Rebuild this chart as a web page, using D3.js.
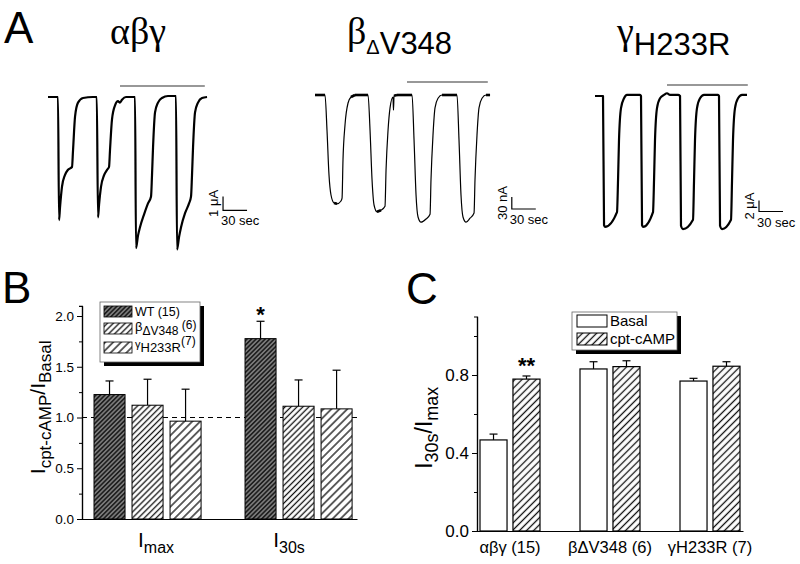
<!DOCTYPE html>
<html>
<head>
<meta charset="utf-8">
<script src="https://cdn.jsdelivr.net/npm/d3@7"></script>
<style>
  body { margin: 0; background: #fff; }
  svg { display: block; }
  text { font-family: "Liberation Sans", Arial, sans-serif; fill: #000; }
</style>
</head>
<body>
<div id="fig"></div>
<script>
// ---------- data: panel A current traces [time (s), current] ----------
// alpha-beta-gamma, current in uA
const traceAbg = [
  [0,0],[12.5,0],[13.8,-8.8],[15,-7.9],[17.5,-6.4],[21,-5.6],[25,-5.2],[30,-5.0],[31.3,-3.8],[33.8,-1.4],[37.5,-0.4],[43.8,-0.07],[56,0],[61,0],
  [62.5,-8.6],[63.8,-7.7],[66.3,-6.4],[70,-5.6],[73.8,-5.2],[76.3,-5.0],[77.5,-3.8],[80,-1.6],[83.8,-0.6],[87.5,-0.3],[90,-0.4],[92.5,-0.2],[97.5,0],[108.8,0],
  [110,-10.8],[112.5,-9.9],[115,-9.3],[120,-8.4],[125,-7.6],[128.8,-7.1],[130,-5.6],[131.3,-3.6],[133.8,-1.1],[137.5,-0.4],[142.5,-0.07],[150,0.07],[160,0.07],
  [161.3,-10.9],[163.8,-10],[166.3,-9.3],[171.3,-8.3],[176.3,-7.6],[178.8,-7.1],[180,-5.6],[181.3,-3.6],[183.8,-1.1],[187.5,-0.4],[192.5,-0.07],[198.8,0]
];
// beta dV348, current in nA
const traceDV348 = [
  [0,0],[12.5,0],[15,-88],[17.5,-200],[20,-250],[23.8,-270],[27.5,-272],[32.5,-265],[33.8,-258],[35,-162],[37.5,-75],[41.3,-20],[45,-5],[50,0],[66.3,0],
  [68.8,-88],[71.3,-212],[73.8,-275],[77.5,-292],[82.5,-288],[87.5,-278],[88.8,-188],[91.3,-88],[93.8,-32],[97.5,-5],[98.1,-38],[98.8,-2],[102.5,0],[121.3,0],
  [123.8,-112],[126.3,-250],[128.8,-305],[132.5,-318],[138.8,-310],[143.8,-298],[145,-212],[147.5,-100],[150,-32],[153.8,-8],[158.8,0],[177.5,0],
  [180,-112],[182.5,-250],[185,-305],[188.8,-318],[193.8,-308],[198.8,-295],[200,-212],[202.5,-100],[205,-32],[208.8,-8],[213.8,0],[218.8,0]
];
// gamma H233R, current in uA
const traceH233R = [
  [0,0],[10,0],[11.3,-23.5],[12.5,-23.8],[27.5,-21.1],[28.8,-15.3],[30,-8],[32.5,-2.2],[36.3,-0.4],[40,0.2],[56.3,0.2],[57.5,0],
  [58.8,-23.5],[60,-23.8],[72.5,-21.1],[73.8,-15.3],[75,-8],[77.5,-2.2],[81.3,-0.4],[86.3,0.2],[90,0.5],[93.8,0.2],[103.8,0.2],[106.3,0],
  [107.5,-23.6],[110,-24.2],[122.5,-22.5],[123.8,-15.3],[125,-8],[127.5,-2.2],[131.3,-0.4],[136.3,0.2],[153.8,0.2],[155,0],
  [156.3,-23.6],[158.8,-24.2],[170,-22.5],[171.3,-15.3],[172.5,-8],[175,-2.2],[178.8,-0.4],[183.8,0.2],[190,0.2]
];
// cpt-cAMP application periods (s)
const cptAbg = [90, 196];
const cptDV348 = [115, 216];
const cptH233R = [90, 191];

// ---------- data: panel B ----------
const bGroups = ["Imax", "I30s"];
const bSeries = ["WT", "dV348", "H233R"];
const bMeanWT = [1.226, 1.777];
const bErrWT = [0.134, 0.171];
const bMeanDV348 = [1.121, 1.111];
const bErrDV348 = [0.256, 0.259];
const bMeanH233R = [0.964, 1.085];
const bErrH233R = [0.315, 0.381];

// ---------- data: panel C ----------
const cGroups = ["αβγ (15)", "βΔV348 (6)", "γH233R (7)"];
const cSeries = ["Basal", "cpt-cAMP"];
const cMeanBasal = [0.467, 0.831, 0.769];
const cErrBasal = [0.030, 0.037, 0.014];
const cMeanCpt = [0.779, 0.843, 0.845];
const cErrCpt = [0.016, 0.030, 0.023];

const SANS = "Liberation Sans, Arial, sans-serif";
const SERIF = "'Liberation Serif', 'DejaVu Serif', 'Times New Roman', serif";

// ---------- svg ----------
const W = 800, H = 564;
const svg = d3.select("#fig").append("svg")
    .attr("width", W)
    .attr("height", H);
svg.append("rect").attr("width", W).attr("height", H).attr("fill", "#fff");

// Hatch patterns
const defs = svg.append("defs");
function hatch(id, gap, bg, lw) {
    const p = defs.append("pattern")
        .attr("id", id)
        .attr("patternUnits", "userSpaceOnUse")
        .attr("width", gap)
        .attr("height", gap)
        .attr("patternTransform", "rotate(45)");
    p.append("rect").attr("width", gap).attr("height", gap).attr("fill", bg);
    p.append("line")
        .attr("x1", gap / 2).attr("x2", gap / 2)
        .attr("y1", 0).attr("y2", gap)
        .attr("stroke", "#111")
        .attr("stroke-width", lw);
}
hatch("hWT", 3.2, "#7a7a7a", 1.4);
hatch("hDV", 4.2, "#fff", 1.3);
hatch("hH2", 5.6, "#fff", 1.3);
hatch("hCpt", 5.0, "#fff", 1.3);
const bFill = {WT: "url(#hWT)", dV348: "url(#hDV)", H233R: "url(#hH2)"};

// Panel letters
[["A", 4, 43], ["B", 2, 303], ["C", 406, 304]].forEach(([t, x, y]) => {
    svg.append("text").attr("x", x).attr("y", y)
        .style("font-size", "44px")
        .text(t);
});

// ================= PANEL A =================
// each trace: 24 px per 30 s
function drawTrace(opt) {
    const x = d3.scaleLinear().domain([0, 30]).range([opt.x0, opt.x0 + 24]);
    const y = d3.scaleLinear().domain([0, -opt.barI]).range([opt.y0, opt.y0 + opt.barPx]);

    const line = d3.line()
        .x(d => x(d[0]))
        .y(d => y(d[1]))
        .curve(d3.curveMonotoneX);

    svg.append("path")
        .datum(opt.data)
        .attr("d", line)
        .attr("fill", "none")
        .attr("stroke", "#000")
        .attr("stroke-width", opt.lw)
        .attr("stroke-linejoin", "round");

    // noisy plateaus drawn heavier
    if (opt.noisy) {
        for (let i = 1; i < opt.data.length; i++) {
            const a = opt.data[i - 1], b = opt.data[i];
            if (Math.abs(y(a[1]) - y(b[1])) < 2.5 && x(b[0]) - x(a[0]) > 1.5) {
                svg.append("line")
                    .attr("x1", x(a[0])).attr("y1", y(a[1]))
                    .attr("x2", x(b[0])).attr("y2", y(b[1]))
                    .attr("stroke", "#000").attr("stroke-width", 2.6);
            }
        }
    }

    // cpt-cAMP bar
    svg.append("line")
        .attr("x1", x(opt.cpt[0])).attr("x2", x(opt.cpt[1]))
        .attr("y1", opt.y0 - opt.cptOff).attr("y2", opt.y0 - opt.cptOff)
        .attr("stroke", "#333").attr("stroke-width", 1.2);

    // scale bar
    const sx = x(opt.sbT), sy = y(opt.sbI);
    svg.append("path")
        .attr("d", `M${sx},${sy - opt.barPx}V${sy}H${sx + 24}`)
        .attr("fill", "none").attr("stroke", "#000").attr("stroke-width", 1.2);
    svg.append("text")
        .attr("transform", `translate(${sx - 5},${sy - opt.barPx / 2}) rotate(-90)`)
        .style("text-anchor", "middle")
        .style("font-size", "13px")
        .text(opt.barLabel);
    svg.append("text")
        .attr("x", sx - 2).attr("y", sy + 15)
        .style("font-size", "13px")
        .text("30 sec");
}

drawTrace({data: traceAbg, x0: 48, y0: 97, barI: 1, barPx: 14, lw: 2.2,
    cpt: cptAbg, cptOff: 11, sbT: 218.8, sbI: -8.1, barLabel: "1 μA"});
drawTrace({data: traceDV348, x0: 315, y0: 95, barI: 30, barPx: 12, lw: 1.2, noisy: true,
    cpt: cptDV348, cptOff: 13, sbT: 246, sbI: -285, barLabel: "30 nA"});
drawTrace({data: traceH233R, x0: 595, y0: 96, barI: 2, barPx: 11, lw: 2.2,
    cpt: cptH233R, cptOff: 11, sbT: 205, sbI: -21, barLabel: "2 μA"});

// Panel A titles
svg.append("text").attr("x", 110).attr("y", 44)
    .style("font-family", SERIF).style("font-size", "38px").text("αβγ");
const t2 = svg.append("text").attr("x", 347).attr("y", 44);
t2.append("tspan").style("font-family", SERIF).style("font-size", "38px").text("β");
t2.append("tspan").attr("dy", 10).style("font-size", "20px").text("Δ");
t2.append("tspan").style("font-size", "31px").text("V348");
const t3 = svg.append("text").attr("x", 617).attr("y", 44);
t3.append("tspan").style("font-family", SERIF).style("font-size", "38px").text("γ");
t3.append("tspan").attr("dy", 11).style("font-size", "31px").text("H233R");

// ================= PANEL B =================
const yB = d3.scaleLinear().domain([0, 2.1]).range([519, 519 - 2.1 * 101.5]);
const xB = d3.scaleBand().domain(bGroups).range([82, 357])
    .paddingInner(0.291).paddingOuter(0.056).align(0.71);
const xBin = d3.scaleBand().domain(bSeries).range([0, xB.bandwidth()]).paddingInner(0.184);
const xBlab = d3.scalePoint().domain(bGroups).range([156, 289]);

const bMeans = {WT: bMeanWT, dV348: bMeanDV348, H233R: bMeanH233R};
const bErrs = {WT: bErrWT, dV348: bErrDV348, H233R: bErrH233R};
const bData = [];
bSeries.forEach(s => bGroups.forEach((g, i) => {
    bData.push({group: g, series: s, mean: bMeans[s][i], err: bErrs[s][i]});
}));

// dashed reference line
svg.append("line")
    .attr("x1", 82).attr("x2", 357)
    .attr("y1", yB(1)).attr("y2", yB(1))
    .attr("stroke", "#000").attr("stroke-width", 1.2)
    .attr("stroke-dasharray", "5,4");

// bars
const bBars = svg.append("g");
bData.forEach(d => {
    const x = xB(d.group) + xBin(d.series);
    const w = xBin.bandwidth();
    bBars.append("line")
        .attr("x1", x + w / 2).attr("x2", x + w / 2)
        .attr("y1", yB(d.mean)).attr("y2", yB(d.mean + d.err))
        .attr("stroke", "#000").attr("stroke-width", 1.2);
    bBars.append("line")
        .attr("x1", x + w / 2 - 4).attr("x2", x + w / 2 + 4)
        .attr("y1", yB(d.mean + d.err)).attr("y2", yB(d.mean + d.err))
        .attr("stroke", "#000").attr("stroke-width", 1.2);
    bBars.append("rect")
        .attr("x", x).attr("y", yB(d.mean))
        .attr("width", w).attr("height", yB(0) - yB(d.mean))
        .attr("fill", bFill[d.series])
        .attr("stroke", "#000").attr("stroke-width", 1);
});

// axes
svg.append("g")
    .attr("transform", "translate(82,0)")
    .call(d3.axisLeft(yB).tickValues([0.25, 0.75, 1.25, 1.75]).tickSize(3).tickFormat(""));
svg.append("g")
    .attr("transform", "translate(82,0)")
    .call(d3.axisLeft(yB).tickValues([0, 0.5, 1, 1.5, 2]).tickFormat(d3.format(".1f"))
        .tickSize(5).tickSizeOuter(0).tickPadding(3))
    .call(g => g.selectAll("text").style("font-size", "13.5px").style("font-family", SANS));
svg.append("g")
    .attr("transform", `translate(0,${yB(0)})`)
    .call(d3.axisBottom(xB).tickSize(0).tickSizeOuter(0).tickFormat(""));
svg.selectAll(".domain").attr("stroke-width", 1.2);

// x labels
bGroups.forEach(g => {
    const t = svg.append("text")
        .attr("x", xBlab(g))
        .attr("y", 547)
        .style("text-anchor", "middle");
    t.append("tspan").style("font-size", "21px").text("I");
    t.append("tspan").attr("dy", 6).style("font-size", "16px").text(g.slice(1));
});

// y label
const ybl = svg.append("text")
    .attr("transform", `translate(45,${yB(1.1)}) rotate(-90)`)
    .style("text-anchor", "middle");
ybl.append("tspan").style("font-size", "21px").text("I");
ybl.append("tspan").attr("dy", 6).style("font-size", "17px").text("cpt-cAMP");
ybl.append("tspan").attr("dy", -6).style("font-size", "21px").text("/I");
ybl.append("tspan").attr("dy", 6).style("font-size", "17px").text("Basal");

// asterisk
svg.append("text")
    .attr("x", xB("I30s") + xBin("WT") + xBin.bandwidth() / 2)
    .attr("y", yB(bMeanWT[1] + bErrWT[1]) + 1)
    .style("text-anchor", "middle")
    .style("font-size", "22px").style("font-weight", "bold")
    .text("*");

// legend B
const legB = svg.append("g");
legB.append("rect").attr("x", 104).attr("y", 306).attr("width", 100).attr("height", 60).attr("fill", "#000");
legB.append("rect").attr("x", 100).attr("y", 302).attr("width", 100).attr("height", 60)
    .attr("fill", "#fff").attr("stroke", "#666").attr("stroke-width", 0.8);
const legRowsB = [306, 323, 342];
bSeries.forEach((s, i) => {
    legB.append("rect").attr("x", 104).attr("y", legRowsB[i])
        .attr("width", 28).attr("height", 11)
        .attr("fill", bFill[s]).attr("stroke", "#000").attr("stroke-width", 0.8);
});
legB.append("text").attr("x", 135).attr("y", 316).style("font-size", "12.5px").text("WT (15)");
const lb2 = legB.append("text").attr("x", 135).attr("y", 331).style("font-size", "12.5px");
lb2.append("tspan").style("font-size", "13px").text("β");
lb2.append("tspan").attr("dy", 4).style("font-size", "12px").text("ΔV348");
lb2.append("tspan").attr("dy", -6).style("font-size", "12px").text(" (6)");
const lb3 = legB.append("text").attr("x", 135).attr("y", 348).style("font-size", "12.5px");
lb3.append("tspan").style("font-size", "11px").text("γ");
lb3.append("tspan").attr("dy", 4).style("font-size", "13px").text("H233R");
lb3.append("tspan").attr("dy", -7).style("font-size", "12px").text("(7)");

// ================= PANEL C =================
const yC = d3.scaleLinear().domain([0, 1.1]).range([531, 531 - 1.1 * 195]);
const xC = d3.scaleBand().domain(cGroups).range([477, 743]).paddingInner(0.4).paddingOuter(0.03);
const xCin = d3.scaleBand().domain(cSeries).range([0, xC.bandwidth()]).paddingInner(0.18);
const cFill = {"Basal": "#fff", "cpt-cAMP": "url(#hCpt)"};

const cData = [];
cGroups.forEach((g, i) => {
    cData.push({group: g, series: "Basal", mean: cMeanBasal[i], err: cErrBasal[i]});
    cData.push({group: g, series: "cpt-cAMP", mean: cMeanCpt[i], err: cErrCpt[i]});
});

cData.forEach(d => {
    const x = xC(d.group) + xCin(d.series);
    const w = xCin.bandwidth();
    svg.append("line")
        .attr("x1", x + w / 2).attr("x2", x + w / 2)
        .attr("y1", yC(d.mean)).attr("y2", yC(d.mean + d.err))
        .attr("stroke", "#000").attr("stroke-width", 1.2);
    svg.append("line")
        .attr("x1", x + w / 2 - 4).attr("x2", x + w / 2 + 4)
        .attr("y1", yC(d.mean + d.err)).attr("y2", yC(d.mean + d.err))
        .attr("stroke", "#000").attr("stroke-width", 1.2);
    svg.append("rect")
        .attr("x", x).attr("y", yC(d.mean))
        .attr("width", w).attr("height", yC(0) - yC(d.mean))
        .attr("fill", cFill[d.series])
        .attr("stroke", "#000").attr("stroke-width", 1.2);
});

svg.append("g")
    .attr("transform", "translate(477,0)")
    .call(d3.axisLeft(yC).tickValues([0.2, 0.6, 1.0]).tickSize(3).tickFormat(""));
svg.append("g")
    .attr("transform", "translate(477,0)")
    .call(d3.axisLeft(yC).tickValues([0, 0.4, 0.8]).tickFormat(d3.format(".1f"))
        .tickSize(5).tickSizeOuter(0).tickPadding(3))
    .call(g => g.selectAll("text").style("font-size", "17px").style("font-family", SANS));
svg.append("g")
    .attr("transform", `translate(0,${yC(0)})`)
    .call(d3.axisBottom(xC).tickSize(0).tickSizeOuter(0).tickPadding(10))
    .call(g => g.selectAll("text").style("font-size", "16.5px").style("font-family", SANS));
svg.selectAll(".domain").attr("stroke-width", 1.2);

// y label C
const ycl = svg.append("text")
    .attr("transform", `translate(432,${(yC(0) + yC(1.1)) / 2 + 4}) rotate(-90)`)
    .style("text-anchor", "middle");
ycl.append("tspan").style("font-size", "23px").text("I");
ycl.append("tspan").attr("dy", 6).style("font-size", "18px").text("30s");
ycl.append("tspan").attr("dy", -6).style("font-size", "23px").text("/I");
ycl.append("tspan").attr("dy", 6).style("font-size", "18px").text("max");

// significance
svg.append("text")
    .attr("x", xC(cGroups[0]) + xCin("cpt-cAMP") + xCin.bandwidth() / 2)
    .attr("y", yC(cMeanCpt[0] + cErrCpt[0]) - 3)
    .style("text-anchor", "middle")
    .style("font-size", "22px").style("font-weight", "bold")
    .text("**");

// legend C
const legC = svg.append("g");
legC.append("rect").attr("x", 576).attr("y", 316).attr("width", 105).attr("height", 38).attr("fill", "#000");
legC.append("rect").attr("x", 572).attr("y", 312).attr("width", 105).attr("height", 38)
    .attr("fill", "#fff").attr("stroke", "#666").attr("stroke-width", 0.8);
cSeries.forEach((s, i) => {
    legC.append("rect").attr("x", 577).attr("y", 315 + i * 18)
        .attr("width", 30).attr("height", 12)
        .attr("fill", cFill[s]).attr("stroke", "#000").attr("stroke-width", 1);
    legC.append("text").attr("x", 610).attr("y", 326 + i * 18)
        .style("font-size", "15px").text(s);
});
</script>
</body>
</html>
